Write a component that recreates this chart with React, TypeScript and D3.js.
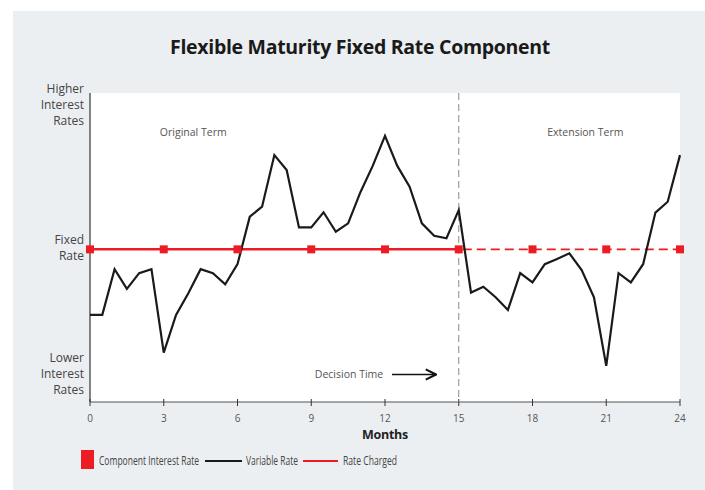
import React from "react";
import * as d3 from "d3";

const months = [0, 0.5, 1, 1.5, 2, 2.5, 3, 3.5, 4, 4.5, 5, 5.5, 6, 6.5, 7, 7.5, 8, 8.5, 9, 9.5, 10, 10.5, 11, 11.5, 12, 12.5, 13, 13.5, 14, 14.5, 15, 15.5, 16, 16.5, 17, 17.5, 18, 18.5, 19, 19.5, 20, 20.5, 21, 21.5, 22, 22.5, 23, 23.5, 24];
const variableRate = [2.82, 2.82, 4.3, 3.66, 4.17, 4.3, 1.6, 2.82, 3.52, 4.3, 4.17, 3.81, 4.46, 6.0, 6.32, 7.99, 7.51, 5.65, 5.65, 6.14, 5.51, 5.78, 6.79, 7.64, 8.61, 7.64, 6.97, 5.78, 5.38, 5.3, 6.21, 3.54, 3.73, 3.39, 2.98, 4.17, 3.87, 4.46, 4.63, 4.81, 4.27, 3.39, 1.17, 4.17, 3.87, 4.46, 6.13, 6.48, 7.99];
const fixedRate = 4.94;
const componentMonths = [0, 3, 6, 9, 12, 15, 18, 21, 24];
const xTicks = [0, 3, 6, 9, 12, 15, 18, 21, 24];
const decisionMonth = 15;
const yLabels = [
  { lines: ["Higher", "Interest", "Rates"], value: 10 },
  { lines: ["Fixed", "Rate"], value: 5 },
  { lines: ["Lower", "Interest", "Rates"], value: 0 },
];
const legendLabels = ["Component Interest Rate", "Variable Rate", "Rate Charged"];

const RED = "#ED1C24";
const FONT = "'Open Sans', sans-serif";

export default function App() {
  const W = 705, H = 490;
  const left = 90, right = 680, top = 93, bottom = 402;
  const x = d3.scaleLinear().domain([0, 24]).range([left, right]);
  const y = d3.scaleLinear().domain([0, 10]).range([bottom, top]);
  const line = d3.line<number>().x((_, i) => x(months[i])).y((d) => y(d));
  const fy = y(fixedRate);

  return (
    <svg width={W} height={H} style={{ position: "absolute", left: 0, top: 0 }} fontFamily={FONT}>
      <defs>
        <marker id="arr" viewBox="0 0 10 10" refX="9" refY="5" markerWidth="8" markerHeight="8" orient="auto">
          <path d="M1,1 L9,5 L1,9" fill="none" stroke="#111" strokeWidth="1.6" />
        </marker>
      </defs>
      <rect x={0} y={0} width={W} height={H} fill="#fff" />
      <rect x={13} y={11} width={W - 13} height={H - 11} fill="#ECEFF2" />
      <rect x={left} y={top} width={right - left} height={bottom - top} fill="#fff" />

      <text x={360} y={54} textAnchor="middle" fontSize={19.5} fontWeight={700} fill="#1a1a1a" fontFamily={FONT} letterSpacing="-0.3">
        Flexible Maturity Fixed Rate Component
      </text>

      {/* axes */}
      <line x1={left} x2={left} y1={top} y2={bottom} stroke="#333" strokeWidth={1.2} />
      <line x1={left} x2={right} y1={bottom} y2={bottom} stroke="#555" strokeWidth={1.2} />
      {xTicks.map((t) => (
        <g key={t}>
          <line x1={x(t)} x2={x(t)} y1={bottom - 3} y2={bottom + 4} stroke="#333" strokeWidth={1} />
          <text x={x(t)} y={421.5} textAnchor="middle" fontSize={10} fill="#555">{t}</text>
        </g>
      ))}
      <text x={x(12)} y={438.5} textAnchor="middle" fontSize={12.5} fontWeight={700} fill="#222" letterSpacing="-0.3">Months</text>

      {/* y labels */}
      {yLabels.map((lab) => {
        const n = lab.lines.length;
        const cy = lab.value === 10 ? 104 : lab.value === 0 ? 373 : y(lab.value);
        return lab.lines.map((s, i) => (
          <text key={s + i + lab.value} x={84} y={cy + (i - (n - 1) / 2) * 16 + 4.5} textAnchor="end" fontSize={12} fill="#444">{s}</text>
        ));
      })}

      {/* decision line */}
      <line x1={x(decisionMonth)} x2={x(decisionMonth)} y1={top} y2={bottom} stroke="#888" strokeWidth={1} strokeDasharray="7,4" />

      <text x={x(4.2)} y={136} textAnchor="middle" fontSize={10.5} fill="#555">Original Term</text>
      <text x={x(20.15)} y={136} textAnchor="middle" fontSize={10.5} fill="#555">Extension Term</text>
      <text x={349} y={378} textAnchor="middle" fontSize={10.5} fill="#555">Decision Time</text>
      <line x1={392} x2={436} y1={374.5} y2={374.5} stroke="#111" strokeWidth={1.6} markerEnd="url(#arr)" />

      {/* rate charged */}
      <line x1={x(0)} x2={x(decisionMonth)} y1={fy} y2={fy} stroke={RED} strokeWidth={2.5} />
      <line x1={x(decisionMonth)} x2={x(24)} y1={fy} y2={fy} stroke={RED} strokeWidth={1.6} strokeDasharray="9,5" strokeDashoffset={-4} />

      {/* variable rate */}
      <path d={line(variableRate) || ""} fill="none" stroke="#1a1a1a" strokeWidth={2.2} strokeLinejoin="miter" />

      {/* component markers */}
      {componentMonths.map((m) => (
        <rect key={m} x={x(m) - 4} y={fy - 4} width={8} height={8} fill={RED} />
      ))}

      {/* legend */}
      <rect x={81} y={450} width={13} height={19} fill={RED} />
      <text x={99} y={465} fontSize={12} fill="#444" textLength={100} lengthAdjust="spacingAndGlyphs">{legendLabels[0]}</text>
      <line x1={205} x2={242} y1={461} y2={461} stroke="#1a1a1a" strokeWidth={2} />
      <text x={246} y={465} fontSize={12} fill="#444" textLength={52} lengthAdjust="spacingAndGlyphs">{legendLabels[1]}</text>
      <line x1={303} x2={338} y1={461} y2={461} stroke={RED} strokeWidth={2} />
      <text x={343} y={465} fontSize={12} fill="#444" textLength={54} lengthAdjust="spacingAndGlyphs">{legendLabels[2]}</text>
    </svg>
  );
}
